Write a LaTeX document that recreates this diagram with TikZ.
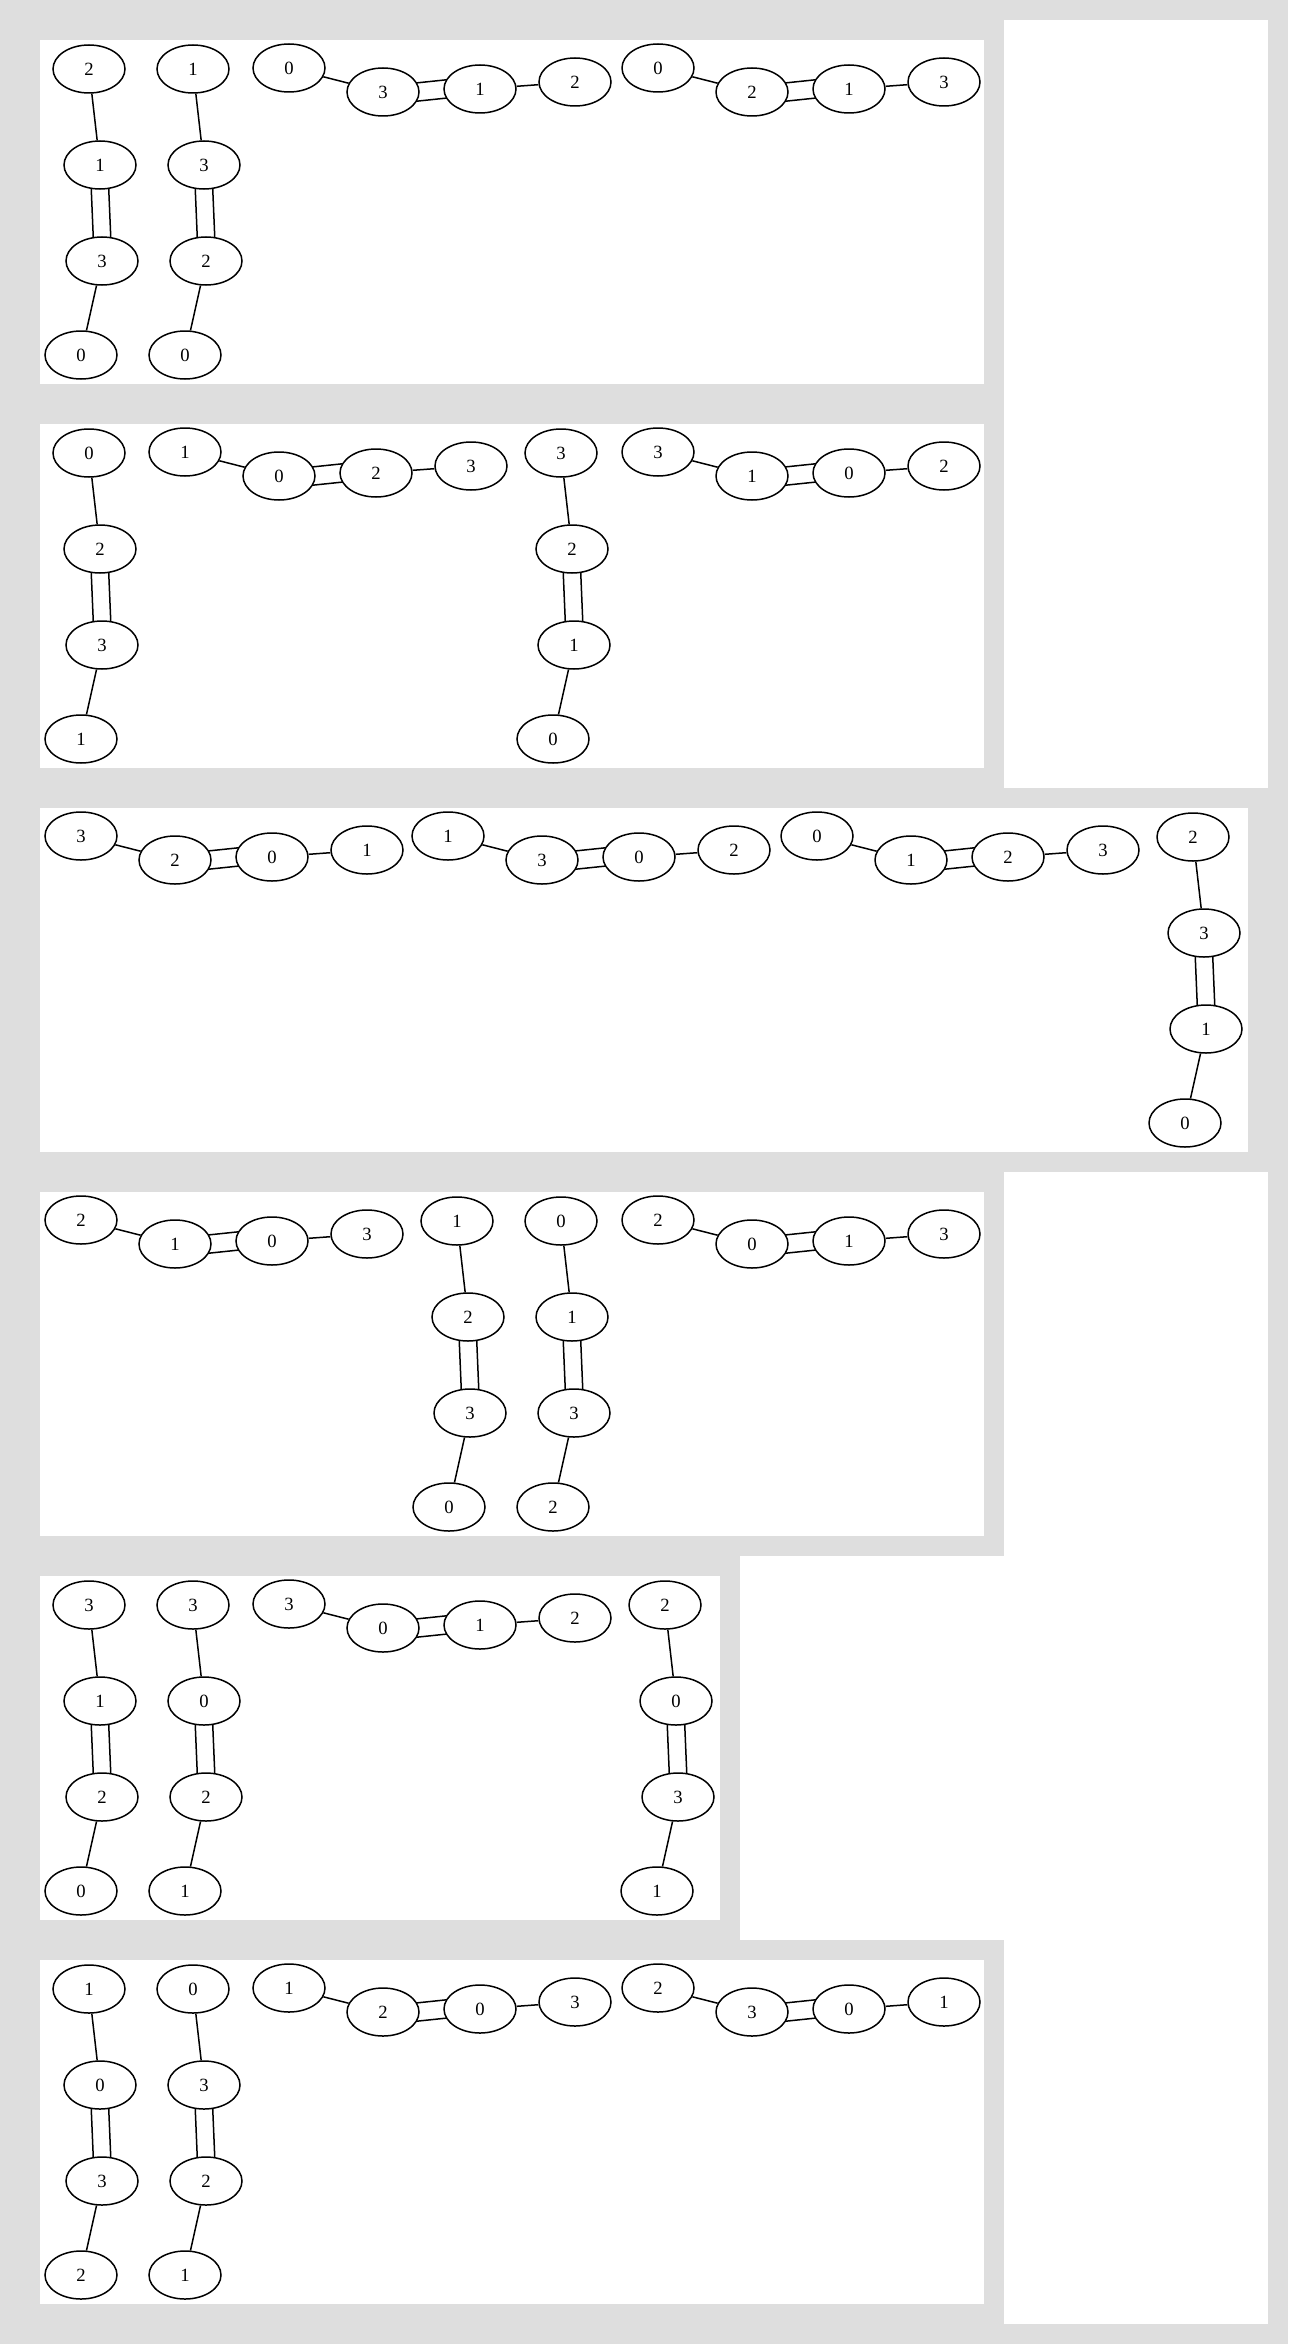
\documentclass[tikz,border=0pt]{standalone}
\usepackage{fontspec}
\setmainfont{Liberation Serif}
\usepackage{tikz}
\usetikzlibrary{shapes.geometric}
\definecolor{panelgray}{HTML}{DEDEDE}

% chain of four laid out top to bottom, double link in the middle
\newcommand{\vgraph}[7]{%
  \node[vtx] (#1a) at (#2,#3) {#4};
  \node[vtx] (#1b) at (#2+11,#3+96) {#5};
  \node[vtx] (#1c) at (#2+13,#3+192) {#6};
  \node[vtx] (#1d) at (#2-8,#3+286) {#7};
  \draw (#1a) -- (#1b);
  \draw (#1b.-110) -- (#1c.110);
  \draw (#1b.-70) -- (#1c.70);
  \draw (#1c) -- (#1d);
}
% chain of four laid out left to right, double link in the middle
\newcommand{\hgraph}[7]{%
  \node[vtx] (#1a) at (#2,#3) {#4};
  \node[vtx] (#1b) at (#2+94,#3+24) {#5};
  \node[vtx] (#1c) at (#2+191,#3+21) {#6};
  \node[vtx] (#1d) at (#2+286,#3+14) {#7};
  \draw (#1a) -- (#1b);
  \draw (#1b.15) -- (#1c.165);
  \draw (#1b.-15) -- (#1c.-165);
  \draw (#1c) -- (#1d);
}

\begin{document}
\begin{tikzpicture}[x=1pt,y=-1pt,line width=1.5pt,
  vtx/.style={ellipse,draw,fill=white,minimum width=72pt,minimum height=48pt,
    inner sep=0pt,font=\fontsize{18.67}{22}\selectfont}]
\fill[panelgray] (0,0) rectangle (1288,2344);
\useasboundingbox (0,0) rectangle (1288,2344);

% white areas
\fill[white] (1004,20) rectangle (1268,788);
\fill[white] (1004,1172) rectangle (1268,2324);
\fill[white] (740,1556) rectangle (1004,1940);
\fill[white] (40,40) rectangle (984,384);
\fill[white] (40,424) rectangle (984,768);
\fill[white] (40,808) rectangle (1248,1152);
\fill[white] (40,1192) rectangle (984,1536);
\fill[white] (40,1576) rectangle (720,1920);
\fill[white] (40,1960) rectangle (984,2304);

% row 1
\vgraph{pav}{89}{69}{2}{1}{3}{0}
\vgraph{pbv}{193}{69}{1}{3}{2}{0}
\hgraph{pch}{289}{68}{0}{3}{1}{2}
\hgraph{pdh}{658}{68}{0}{2}{1}{3}

% row 2
\vgraph{qav}{89}{453}{0}{2}{3}{1}
\hgraph{qbh}{185}{452}{1}{0}{2}{3}
\vgraph{qcv}{561}{453}{3}{2}{1}{0}
\hgraph{qdh}{658}{452}{3}{1}{0}{2}

% row 3
\hgraph{rah}{81}{836}{3}{2}{0}{1}
\hgraph{rbh}{448}{836}{1}{3}{0}{2}
\hgraph{rch}{817}{836}{0}{1}{2}{3}
\vgraph{rdv}{1193}{837}{2}{3}{1}{0}

% row 4
\hgraph{sah}{81}{1220}{2}{1}{0}{3}
\vgraph{sbv}{457}{1221}{1}{2}{3}{0}
\vgraph{scv}{561}{1221}{0}{1}{3}{2}
\hgraph{sdh}{658}{1220}{2}{0}{1}{3}

% row 5
\vgraph{tav}{89}{1605}{3}{1}{2}{0}
\vgraph{tbv}{193}{1605}{3}{0}{2}{1}
\hgraph{tch}{289}{1604}{3}{0}{1}{2}
\vgraph{tdv}{665}{1605}{2}{0}{3}{1}

% row 6
\vgraph{uav}{89}{1989}{1}{0}{3}{2}
\vgraph{ubv}{193}{1989}{0}{3}{2}{1}
\hgraph{uch}{289}{1988}{1}{2}{0}{3}
\hgraph{udh}{658}{1988}{2}{3}{0}{1}
\end{tikzpicture}
\end{document}
